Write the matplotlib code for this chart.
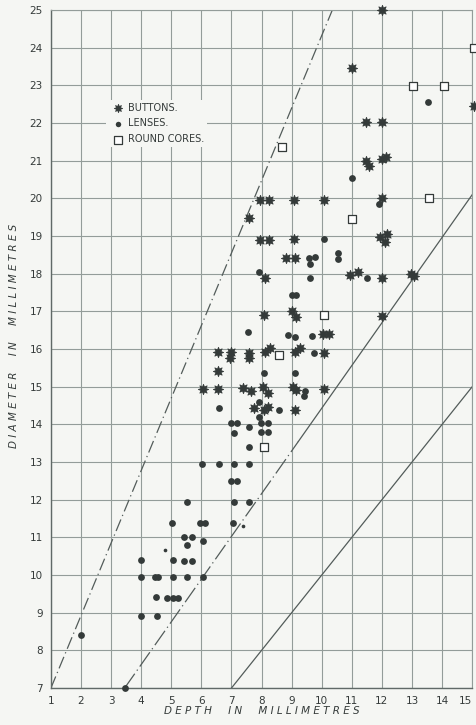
import matplotlib
matplotlib.use("Agg")
import matplotlib.pyplot as plt

# buttons (stars)
btn_x = [12, 11, 11.46, 12, 11.46, 11.56, 12, 12.15, 12, 11.93, 12.16, 12.1,
         10.95, 11.2, 12, 12.96, 13.05, 15.05, 7.95, 8.25, 9.07, 10.07, 7.58,
         7.95, 8.25, 9.07, 8.8, 9.1, 8.1, 8.08, 9.0, 9.15, 12, 10.03, 10.23,
         8.1, 8.27, 9.1, 9.27, 10.07, 6.55, 7.0, 6.95, 7.58, 7.58, 6.55, 6.05,
         6.55, 7.38, 7.65, 8.04, 8.2, 9.05, 9.15, 10.07, 7.75, 8.2, 8.08, 9.1]
btn_y = [25, 23.46, 22.03, 22.03, 21.0, 20.85, 21.05, 21.1, 20.0, 18.97, 19.05, 18.85,
         17.96, 18.05, 17.9, 18.0, 17.93, 22.45, 19.96, 19.96, 19.96, 19.96, 19.47,
         18.9, 18.9, 18.92, 18.42, 18.42, 17.9, 16.9, 17.02, 16.85, 16.88, 16.4, 16.4,
         15.93, 16.03, 15.92, 16.03, 15.9, 15.92, 15.92, 15.76, 15.9, 15.76, 15.42, 14.94,
         14.94, 14.97, 14.88, 14.99, 14.83, 15.0, 14.92, 14.94, 14.43, 14.46, 14.38, 14.38]

# lenses (dots)
lens_x = [11.9, 11.0, 13.52, 11.5, 10.53, 10.53, 9.57, 9.77, 9.6, 7.92, 9.6, 10.07,
          9.0, 9.14, 7.55, 8.87, 9.1, 9.67, 9.74, 8.08, 9.1, 9.45, 9.4, 7.92, 8.57,
          7.92, 6.58, 6.98, 7.18, 7.08, 7.58, 7.98, 8.22, 7.98, 8.22, 7.58, 6.02,
          6.58, 7.08, 7.58, 7.0, 7.2, 5.52, 7.08, 7.58, 5.03, 5.95, 6.12, 7.06,
          5.42, 5.68, 5.52, 6.05, 3.99, 5.05, 5.42, 5.68, 3.99, 4.46, 4.56, 5.05,
          5.52, 6.05, 4.49, 4.85, 5.05, 5.22, 3.99, 4.52, 2.0, 3.45]
lens_y = [19.85, 20.55, 22.55, 17.9, 18.55, 18.4, 18.42, 18.45, 18.25, 18.05, 17.9, 18.92,
          17.43, 17.43, 16.45, 16.37, 16.33, 16.35, 15.9, 15.36, 15.36, 14.9, 14.75, 14.6, 14.38,
          14.2, 14.43, 14.04, 14.04, 13.78, 13.92, 14.04, 14.04, 13.8, 13.8, 13.4, 12.95,
          12.95, 12.95, 12.95, 12.5, 12.5, 11.95, 11.95, 11.95, 11.38, 11.38, 11.38, 11.38,
          11.0, 11.0, 10.8, 10.9, 10.4, 10.4, 10.37, 10.37, 9.95, 9.95, 9.95, 9.95,
          9.95, 9.95, 9.42, 9.4, 9.4, 9.4, 8.92, 8.92, 8.4, 7.0]
small_x = [7.38, 4.79]
small_y = [11.3, 10.67]

# round cores (open squares)
core_x = [8.67, 11.0, 13.55, 13.03, 14.05, 15.05, 10.07, 8.57, 8.08]
core_y = [21.37, 19.45, 20.0, 22.98, 22.98, 23.99, 16.9, 15.84, 13.4]

# guide lines
lineA_x = [1, 10.35]
lineA_y = [7, 25]
lineB_x = [3.45, 15]
lineB_y = [7, 20.1]
lineC_x = [7, 15]
lineC_y = [7, 15]

ink = "#343a39"
paper = "#f5f6f3"
gridc = "#939c99"
linec = "#535c5a"

fig = plt.figure(figsize=(4.76, 7.25), dpi=100, facecolor=paper)
ax = fig.add_axes([0.107, 0.051, 0.885, 0.935])
ax.set_facecolor(paper)

ax.set_xlim(1, 15)
ax.set_ylim(7, 25)
ax.set_xticks(range(1, 16))
ax.set_yticks(range(7, 26))
ax.grid(True, color=gridc, linewidth=0.8)
ax.tick_params(length=0, labelsize=7.5, colors=ink, pad=6)
for s in ax.spines.values():
    s.set_color(gridc)
    s.set_linewidth(0.8)
ax.spines["left"].set_color("#606967")
ax.spines["bottom"].set_color("#606967")
ax.spines["left"].set_linewidth(1.0)
ax.spines["bottom"].set_linewidth(1.0)

# last x label sits at the right edge, keep it inside the figure
xl = ax.get_xticklabels()
xl[-1].set_horizontalalignment("right")

ax.plot(lineA_x, lineA_y, color=linec, lw=0.9, linestyle=(0, (10, 3, 1, 3)))
# lower half of line B is dash-dot, upper half solid
mid_x = (lineB_x[0] + lineB_x[1]) / 2
mid_y = (lineB_y[0] + lineB_y[1]) / 2
ax.plot([lineB_x[0], mid_x], [lineB_y[0], mid_y], color=linec, lw=0.9,
        linestyle=(0, (14, 3, 1, 3)))
ax.plot([mid_x, lineB_x[1]], [mid_y, lineB_y[1]], color=linec, lw=0.9)
ax.plot(lineC_x, lineC_y, color=linec, lw=0.9)

ax.scatter(btn_x, btn_y, marker=(8, 1, 0), s=55, color=ink, edgecolor=ink,
           linewidths=0.6, clip_on=False, zorder=3, label="BUTTONS.")
ax.scatter(lens_x, lens_y, marker="o", s=24, color=ink, linewidths=0, clip_on=False,
           zorder=3, label="LENSES.")
ax.scatter(small_x, small_y, marker="o", s=7, color=ink, linewidths=0, zorder=3)
ax.scatter(core_x, core_y, marker="s", s=40, facecolor="white", edgecolor=ink,
           linewidths=0.9, clip_on=False, zorder=3, label="ROUND CORES.")

leg = ax.legend(loc="upper left", bbox_to_anchor=(0.13, 0.868), frameon=True,
                facecolor=paper, edgecolor="none", framealpha=1, fontsize=7,
                handletextpad=0.0, borderpad=0.3, labelspacing=0.6, markerscale=0.8,
                borderaxespad=0)
for t in leg.get_texts():
    t.set_color(ink)

ax.set_xlabel("D E P T H     I N     M I L L I M E T R E S", fontsize=7.5,
              style="italic", color=ink, labelpad=0)
ax.set_ylabel("D I A M E T E R     I N     M I L L I M E T R E S", fontsize=7.5,
              style="italic", color=ink, labelpad=4)
ax.yaxis.set_label_coords(-0.075, 0.52)

fig.savefig("out.png", dpi=100, facecolor=paper)
